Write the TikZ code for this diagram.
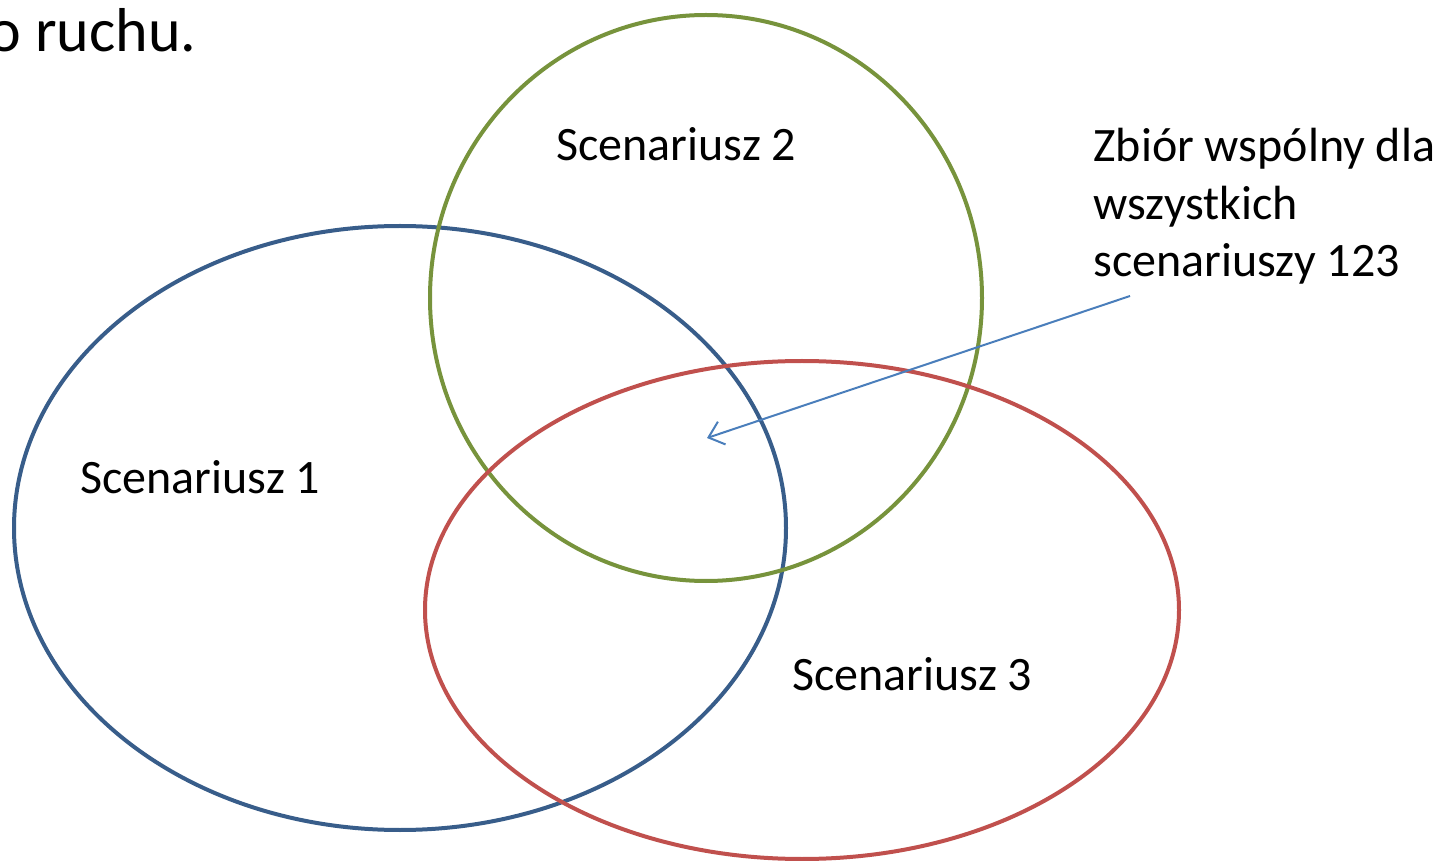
\documentclass[tikz,border=0pt]{standalone}
\usepackage{fontspec}
\setmainfont{Carlito}
\usetikzlibrary{arrows.meta}
\definecolor{sblue}{HTML}{385D8A}
\definecolor{sgreen}{HTML}{77933C}
\definecolor{sred}{HTML}{C0504D}
\definecolor{sarrow}{HTML}{4A7EBB}
\tikzset{
  setline/.style={line width=2pt},
  lbl/.style={anchor=base west, inner sep=0pt, font=\fontsize{24}{29}\selectfont},
}
\begin{document}
\begin{tikzpicture}[x=0.5pt,y=-0.5pt]
\useasboundingbox (0,0) rectangle (1437,861);
\draw[setline, sblue] (400,528) ellipse [x radius=386, y radius=302];
\draw[setline, sgreen] (706,298) ellipse [x radius=276, y radius=283];
\draw[setline, sred] (802,610) ellipse [x radius=377, y radius=249];
\node[lbl, font=\fontsize{31}{36}\selectfont] (top) at (-12,52) {o ruchu.};
\node[lbl] (s2) at (556,161) {Scenariusz 2};
\node[lbl] (s1) at (80,494) {Scenariusz 1};
\node[lbl] (s3) at (792,690) {Scenariusz 3};
\node[lbl, anchor=north west, align=left, font=\fontsize{24}{28.8}\selectfont] (common) at (1093,128) {Zbiór wspólny dla\\wszystkich\\scenariuszy 123};
\coordinate (a0) at (1130,296);
\coordinate (a1) at (707,438);
\draw[sarrow, line width=1pt, -{Straight Barb[length=7pt,width=12pt]}] (a0) -- (a1);
\end{tikzpicture}
\end{document}
